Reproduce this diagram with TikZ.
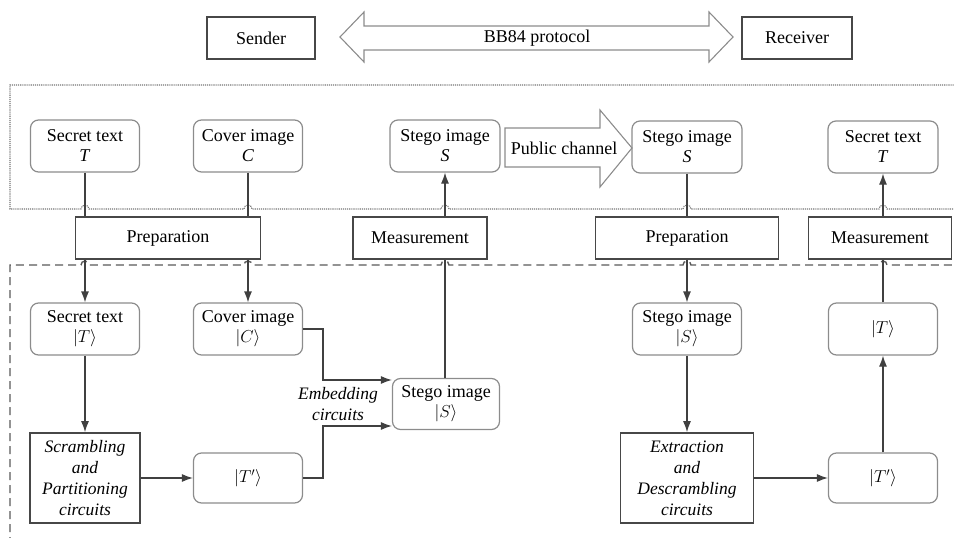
\documentclass[tikz,border=0pt]{standalone}
\usepackage{fontspec}
\setmainfont{Liberation Serif}
\usetikzlibrary{arrows.meta,calc}
\begin{document}
\begin{tikzpicture}[x=1pt,y=-1pt,
  every node/.style={font=\fontsize{18}{20}\selectfont, align=center, inner sep=0pt},
  rbox/.style={draw=black!45, line width=1.2pt, rounded corners=8pt, minimum width=109pt, minimum height=52pt},
  sbox/.style={draw=black!72, line width=1.7pt, minimum height=42pt},
  cbox/.style={draw=black!72, line width=1.7pt, minimum width=110pt, minimum height=90pt, font=\fontsize{17.5}{21}\selectfont\itshape},
  conn/.style={draw=black!75, line width=1.2pt},
  arr/.style={conn, -{Latex[length=11pt,width=8pt]}},
  bigarrow/.style={draw=black!45, line width=1.1pt, fill=white, line join=miter},
  dotframe/.style={draw=black!55, densely dotted, line width=1.1pt},
  dashframe/.style={draw=black!65, dash pattern=on 8pt off 5pt, line width=1.4pt}
]
\useasboundingbox (0,0) rectangle (954,538);
\clip (0,0) rectangle (954,538);

% frames
\draw[dotframe] (960,85) -- (10,85) -- (10,209)
  -- (81,209) arc[start angle=180,end angle=360,radius=4]
  -- (244,209) arc[start angle=180,end angle=360,radius=4]
  -- (441,209) arc[start angle=180,end angle=360,radius=4]
  -- (683,209) arc[start angle=180,end angle=360,radius=4]
  -- (879,209) arc[start angle=180,end angle=360,radius=4]
  -- (960,209);
\draw[dashframe] (10,545) -- (10,265)
  -- (81,265) arc[start angle=180,end angle=360,radius=4]
  -- (244,265) arc[start angle=180,end angle=360,radius=4]
  -- (441,265) arc[start angle=180,end angle=360,radius=4]
  -- (683,265) arc[start angle=180,end angle=360,radius=4]
  -- (879,265) arc[start angle=180,end angle=360,radius=4]
  -- (960,265);

% header
\node[sbox, minimum width=108pt] (sender) at (261,38) {Sender};
\node[sbox, minimum width=110pt] (receiver) at (797,38) {Receiver};
\draw[bigarrow] (340,37) -- (364,12) -- (364,26) -- (709,26) -- (709,12) -- (733,37)
  -- (709,62) -- (709,50) -- (364,50) -- (364,62) -- cycle;
\node (bb84) at (537,38) {BB84 protocol};

% top row
\node[rbox] (st1) at (85,146) {Secret text\\\textit{T}};
\node[rbox] (ci1) at (248,146) {Cover image\\\textit{C}};
\node[rbox, minimum width=110pt] (sg1) at (445,146) {Stego image\\\textit{S}};
\node[rbox, minimum width=110pt] (sg2) at (687,147) {Stego image\\\textit{S}};
\node[rbox, minimum width=110pt] (st2) at (883,147) {Secret text\\\textit{T}};
\draw[bigarrow] (505,128) -- (600,128) -- (600,110) -- (632,148) -- (600,187) -- (600,167) -- (505,167) -- cycle;
\node (pub) at (564,148) {Public channel};

% middle row
\node[sbox, minimum width=185pt] (prep1) at (168,238) {Preparation};
\node[sbox, minimum width=134pt] (meas1) at (420,238) {Measurement};
\node[sbox, minimum width=183pt] (prep2) at (687,238) {Preparation};
\node[sbox, minimum width=143pt] (meas2) at (880,238) {Measurement};

% lower left
\node[rbox] (st3) at (85,329) {Secret text\\$|T\rangle$};
\node[rbox] (ci3) at (248,329) {Cover image\\$|C\rangle$};
\node[rbox, minimum width=107pt, minimum height=51pt] (sg3) at (446,404) {Stego image\\$|S\rangle$};
\node[cbox] (scr) at (85,478) {Scrambling\\and\\Partitioning\\circuits};
\node[rbox, minimum height=50pt] (tp1) at (248,478) {$|T'\rangle$};
\node[font=\fontsize{17.5}{21}\selectfont\itshape] (emb) at (338,404) {Embedding\\circuits};

% lower right
\node[rbox] (sg4) at (687,329) {Stego image\\$|S\rangle$};
\node[cbox, minimum width=133pt] (ext) at (687,478) {Extraction\\and\\Descrambling\\circuits};
\node[rbox, minimum height=50pt] (tp2) at (883,478) {$|T'\rangle$};
\node[rbox] (tt) at (883,329) {$|T\rangle$};

% connectors sender side
\draw[conn] (st1.south) -- (st1.south |- prep1.north);
\draw[arr] (st3.north |- prep1.south) -- (st3.north);
\draw[conn] (ci1.south) -- (ci1.south |- prep1.north);
\draw[arr] (ci3.north |- prep1.south) -- (ci3.north);
\draw[arr] (st3.south) -- (st3.south |- scr.north);
\draw[arr] (scr) -- (tp1);
\coordinate (j1) at (323,329);
\coordinate (j2) at (323,478);
\draw[arr] (ci3.east) -- (j1) -- (j1 |- 0,380) -- (sg3.west |- 0,380);
\draw[arr] (tp1.east) -- (j2) -- (j2 |- 0,426) -- (sg3.west |- 0,426);
\draw[conn] (sg3.north -| sg1.south) -- (sg1.south |- meas1.south);
\draw[arr] (sg1.south |- meas1.north) -- (sg1.south);

% receiver side
\draw[conn] (sg2.south) -- (sg2.south |- prep2.north);
\draw[arr] (sg4.north |- prep2.south) -- (sg4.north);
\draw[arr] (sg4.south) -- (sg4.south |- ext.north);
\draw[arr] (ext) -- (tp2);
\draw[arr] (tp2) -- (tt);
\draw[conn] (tt.north) -- (tt.north |- meas2.south);
\draw[arr] (st2.south |- meas2.north) -- (st2.south);
\end{tikzpicture}
\end{document}
